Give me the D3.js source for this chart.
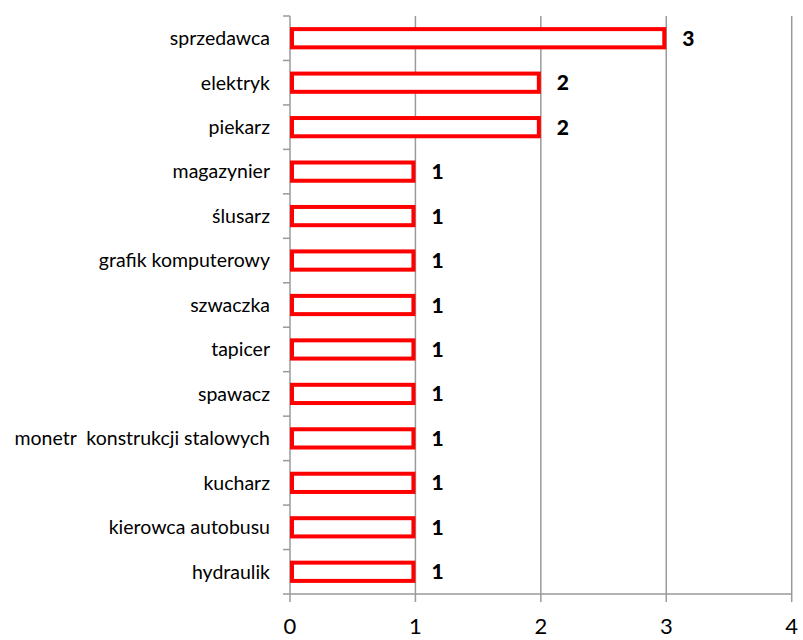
<!DOCTYPE html>
<html>
<head>
<meta charset="utf-8">
<script src="https://cdn.jsdelivr.net/npm/d3@7"></script>
<style>
  html, body { margin: 0; padding: 0; background: #fff; }
  svg { display: block; font-family: Lato, "Open Sans", sans-serif; }
  text { white-space: pre; }
</style>
</head>
<body>
<svg id="chart" width="803" height="640"></svg>
<script>
// Occupations, listed top to bottom
const categories = [
  "sprzedawca", "elektryk", "piekarz", "magazynier", "ślusarz",
  "grafik komputerowy", "szwaczka", "tapicer", "spawacz",
  "monetr  konstrukcji stalowych", "kucharz", "kierowca autobusu", "hydraulik"
];
const values = [3, 2, 2, 1, 1, 1, 1, 1, 1, 1, 1, 1, 1];
const xTicks = [0, 1, 2, 3, 4];

const svg = d3.select("#chart");
const plotLeft = 290, plotRight = 791.7, plotTop = 16, plotBottom = 594;

const x = d3.scaleLinear().domain([0, 4]).range([plotLeft, plotRight]);
const y = d3.scaleBand().domain(categories).range([plotTop, plotBottom]).paddingInner(0.5).paddingOuter(0.25);

const gridColor = "#9a9a9a";

// vertical gridlines
svg.append("g").selectAll("line").data(xTicks.filter(d => d > 0)).join("line")
  .attr("x1", d => x(d)).attr("x2", d => x(d))
  .attr("y1", plotTop).attr("y2", plotBottom)
  .attr("stroke", gridColor).attr("stroke-width", 1.5);

// bottom axis line, ticks and labels
svg.append("line").attr("x1", plotLeft).attr("x2", plotRight).attr("y1", plotBottom).attr("y2", plotBottom)
  .attr("stroke", gridColor).attr("stroke-width", 1.5);
svg.append("g").selectAll("line").data(xTicks).join("line")
  .attr("x1", d => x(d)).attr("x2", d => x(d))
  .attr("y1", plotBottom).attr("y2", plotBottom + 8)
  .attr("stroke", gridColor).attr("stroke-width", 1.5);
svg.append("g").selectAll("text").data(xTicks).join("text")
  .attr("x", d => x(d)).attr("y", 634)
  .attr("text-anchor", "middle")
  .attr("font-size", 22).attr("fill", "#000")
  .text(d => d);

// left axis line + category boundary ticks
svg.append("line").attr("x1", plotLeft).attr("x2", plotLeft).attr("y1", plotTop).attr("y2", plotBottom)
  .attr("stroke", gridColor).attr("stroke-width", 1.5);
const bounds = d3.range(categories.length + 1).map(i => plotTop + i * (plotBottom - plotTop) / categories.length);
svg.append("g").selectAll("line").data(bounds).join("line")
  .attr("x1", plotLeft - 7).attr("x2", plotLeft)
  .attr("y1", d => d).attr("y2", d => d)
  .attr("stroke", gridColor).attr("stroke-width", 1.5);

const bandCenter = c => y(c) + y.bandwidth() / 2;

// category labels
svg.append("g").selectAll("text").data(categories).join("text")
  .attr("x", plotLeft - 20).attr("y", d => bandCenter(d))
  .attr("dy", "0.35em").attr("text-anchor", "end")
  .attr("font-size", 19.5).attr("fill", "#000")
  .text(d => d);

// bars (outlined)
const sw = 4;
svg.append("g").selectAll("rect").data(categories).join("rect")
  .attr("x", x(0) + sw / 2)
  .attr("y", d => y(d) + sw / 2)
  .attr("width", (d, i) => x(values[i]) - x(0) - sw)
  .attr("height", y.bandwidth() - sw)
  .attr("fill", "#fff")
  .attr("stroke", "#ff0000").attr("stroke-width", sw);

// value labels
svg.append("g").selectAll("text").data(categories).join("text")
  .attr("x", (d, i) => x(values[i]) + 16).attr("y", d => bandCenter(d))
  .attr("dy", "0.36em")
  .attr("font-size", 21).attr("font-weight", "900").attr("fill", "#000")
  .text((d, i) => values[i]);
</script>
</body>
</html>
